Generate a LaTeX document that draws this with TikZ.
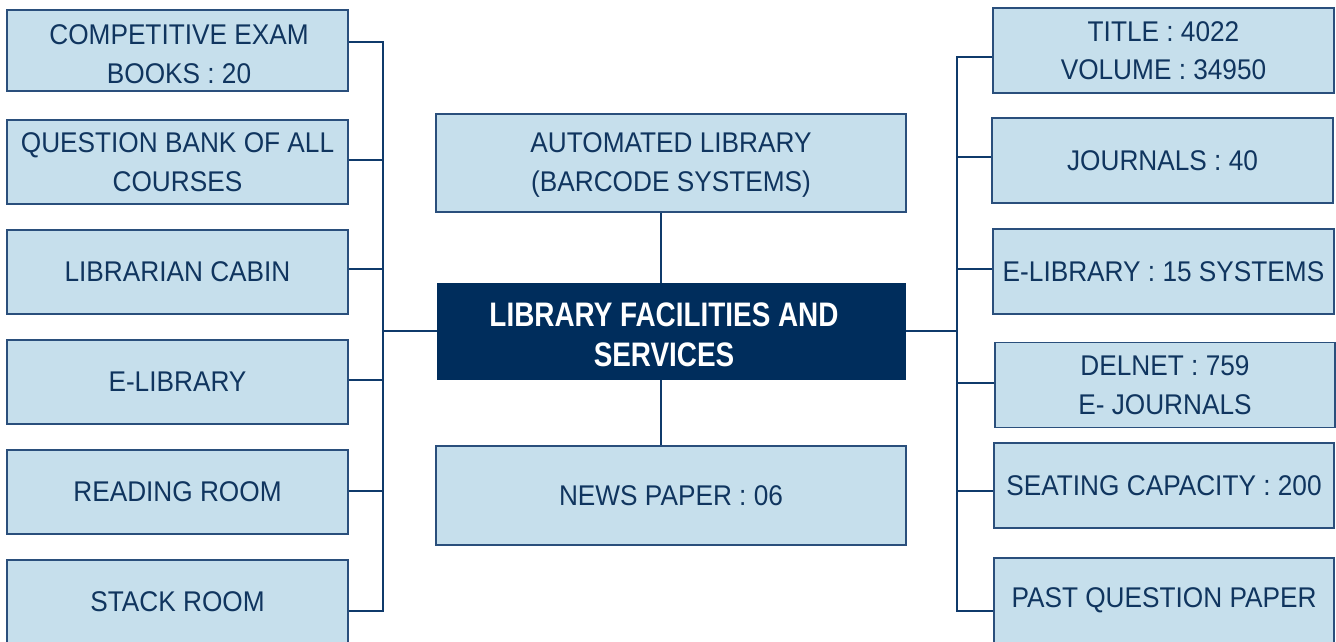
\documentclass[tikz,border=0pt]{standalone}
\usepackage{fontspec}
\setmainfont[FakeStretch=0.92]{Liberation Sans}
\newfontfamily\titlefont[FakeStretch=0.82]{Liberation Sans Bold}
\definecolor{boxfill}{HTML}{C6DFEC}
\definecolor{boxedge}{HTML}{2A4F7C}
\definecolor{linec}{HTML}{0F3A6B}
\definecolor{navy}{HTML}{002D5C}
\definecolor{txt}{HTML}{10355F}
\begin{document}
\begin{tikzpicture}[x=1pt,y=-1pt,
  lbox/.style={draw=boxedge,fill=boxfill,line width=1.3pt,inner sep=0pt,
    text=txt,align=center,font=\fontsize{28.5}{38.5}\selectfont},
  ltxt/.style={text=txt,align=center,inner sep=0pt,font=\fontsize{28.5}{38.5}\selectfont},
  mbox/.style={fill=navy,inner sep=0pt,text=white,align=center,
    font=\titlefont\fontsize{34}{40}\selectfont},
  conn/.style={draw=linec,line width=2.6pt}]
\useasboundingbox (0,0) rectangle (1336,641);
% left column
\node[lbox,minimum width=341pt,minimum height=81pt] (l1) at (177.5,50.5) {};
\node[ltxt] (l1txt) at (179,54) {COMPETITIVE EXAM\\BOOKS : 20};
\node[lbox,minimum width=341pt,minimum height=84pt] (l2) at (177.5,162) {QUESTION BANK OF ALL\\COURSES};
\node[lbox,minimum width=341pt,minimum height=84pt] (l3) at (177.5,272) {LIBRARIAN CABIN};
\node[lbox,minimum width=341pt,minimum height=84pt] (l4) at (177.5,382) {E-LIBRARY};
\node[lbox,minimum width=341pt,minimum height=84pt] (l5) at (177.5,492) {READING ROOM};
\node[lbox,minimum width=341pt,minimum height=84pt] (l6) at (177.5,602) {STACK ROOM};
% center column
\node[lbox,minimum width=470pt,minimum height=98pt] (top) at (671,163) {};
\node[ltxt] (toptxt) at (671,165) {AUTOMATED LIBRARY\\(BARCODE SYSTEMS)};
\node[mbox,minimum width=469pt,minimum height=97pt] (c) at (671.5,331.5) {};
\node[text=white,align=center,inner sep=0pt,font=\titlefont\fontsize{34}{39.5}\selectfont] (ctxt) at (664,335) {LIBRARY FACILITIES AND\\SERVICES};
\node[lbox,minimum width=470pt,minimum height=99pt] (bot) at (671,495.5) {NEWS PAPER : 06};
% right column
\node[lbox,minimum width=341pt,minimum height=85pt] (r1) at (1163.5,50.5) {TITLE : 4022\\VOLUME : 34950};
\node[lbox,minimum width=341pt,minimum height=85pt] (r2) at (1162.5,160.5) {JOURNALS : 40};
\node[lbox,minimum width=341pt,minimum height=85pt] (r3) at (1163.5,271.5) {E-LIBRARY : 15 SYSTEMS};
\node[lbox,minimum width=340pt,minimum height=85pt] (r4) at (1165,385) {DELNET : 759\\E- JOURNALS};
\node[lbox,minimum width=340pt,minimum height=85pt] (r5) at (1164,485.5) {SEATING CAPACITY : 200};
\node[lbox,minimum width=340pt,minimum height=85pt] (r6) at (1164,600.5) {PAST QUESTION PAPER};
% bus coordinates
\coordinate (lt) at (383,42);
\coordinate (lb) at (383,611);
\coordinate (rt) at (957,57);
\coordinate (rb) at (957,611);
% left bus
\draw[conn] (l1.east |- lt) -- (lt) -- (lb) -- (l6.east |- lb);
\draw[conn] (l2.east |- 0,160) -- (383,160);
\draw[conn] (l3.east |- 0,269) -- (383,269);
\draw[conn] (l4.east |- 0,380) -- (383,380);
\draw[conn] (l5.east |- 0,491) -- (383,491);
\draw[conn,line width=2pt] (383,331) -- (c.west |- 0,331);
% right bus
\draw[conn] (r1.west |- rt) -- (rt) -- (rb) -- (r6.west |- rb);
\draw[conn] (r2.west |- 0,157) -- (957,157);
\draw[conn] (r3.west |- 0,269) -- (957,269);
\draw[conn] (r4.west |- 0,383) -- (957,383);
\draw[conn] (r5.west |- 0,491) -- (957,491);
\draw[conn,line width=2pt] (c.east |- 0,331) -- (957,331);
% center vertical
\draw[conn,line width=2pt] (top.south -| 661,0) -- (c.north -| 661,0);
\draw[conn,line width=2pt] (c.south -| 661,0) -- (bot.north -| 661,0);
\end{tikzpicture}
\end{document}
